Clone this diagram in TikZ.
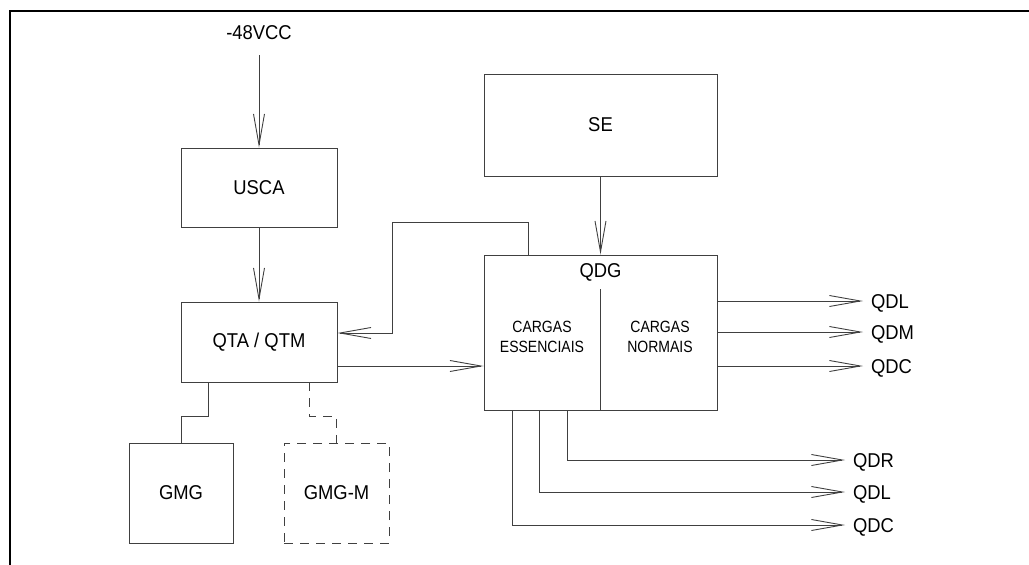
\documentclass[tikz,border=0pt]{standalone}
\usepackage{fontspec}
\setmainfont[FakeStretch=0.92]{Liberation Sans}
\newfontfamily\narrowfont[FakeStretch=0.86]{Liberation Sans}
\usepackage{tikz}
\usetikzlibrary{arrows.meta, positioning}

\tikzset{
  bloco/.style={draw=black!75, line width=0.9pt, inner sep=0pt},
  rotulo/.style={inner sep=0pt, font=\fontsize{20}{24}\selectfont},
  saida/.style={rotulo, anchor=west, outer xsep=8pt, text height=14.3pt, text depth=0pt},
  linha/.style={draw=black!75, line width=0.9pt}
}

\begin{document}
\begin{tikzpicture}[x=1pt, y=-1pt, >={Straight Barb[length=31pt, width=11pt]},
    font=\fontsize{20}{24}\selectfont]
    \useasboundingbox (0,0) rectangle (1029,565);
    % 1. Moldura
    \draw[line width=2pt] (10,565) -- (10,11) -- (1029,11);

    % 2. Blocos
    \node[rotulo, outer ysep=15pt] (vcc) at (259,33) {-48VCC};
    \node[bloco, minimum width=156, minimum height=79] (usca) at (259,187.5) {USCA};
    \node[bloco, minimum width=156, minimum height=80] (qta) at (259,342) {QTA / QTM};
    \node[bloco, minimum width=233, minimum height=102] (se) at (600.5,125) {SE};
    \node[bloco, minimum width=233, minimum height=155] (qdg) at (600.5,332.5) {};
    \node[bloco, minimum width=104, minimum height=100] (gmg) at (181,493) {GMG};
    \node[bloco, dash pattern=on 9pt off 7pt, minimum width=105, minimum height=100]
        (gmgm) at (336.5,493) {GMG-M};

    % 3. Textos dentro do QDG
    \node[rotulo] (qdgtxt) at (600.5,272) {QDG};
    \node[align=center, font=\narrowfont\fontsize{16.3}{20}\selectfont] (ess) at (542,337)
        {CARGAS\\ESSENCIAIS};
    \node[align=center, font=\narrowfont\fontsize{16.3}{20}\selectfont] (nor) at (660,337)
        {CARGAS\\NORMAIS};
    \draw[linha] (qdg.south) -- ++(0,-121);

    % 4. Saidas
    \node[saida] (qdla) at (863,301) {QDL};
    \node[saida] (qdm)  at (863,332) {QDM};
    \node[saida] (qdca) at (863,366) {QDC};
    \node[saida] (qdr)  at (845,460) {QDR};
    \node[saida] (qdlb) at (845,492) {QDL};
    \node[saida] (qdcb) at (845,525) {QDC};

    % 5. Ligacoes
    \draw[linha, ->] (vcc) -- (usca);
    \draw[linha, ->] (usca) -- (qta);
    \draw[linha, ->] (se) -- (qdg);
    \draw[linha, ->] ([xshift=-72.5pt]qdg.north) |- (392,222) |- ([yshift=9pt]qta.east);
    \draw[linha, ->] ([yshift=-24pt]qta.east) -- ([yshift=-24pt]qta.east -| qdg.west);
    \draw[linha] ([xshift=-51pt]qta.south) -- ++(0,34) -| (gmg.north);
    \draw[linha, dash pattern=on 9pt off 7pt] ([xshift=50pt]qta.south) -- ++(0,34) -| (gmgm.north);
    \draw[linha, ->] (qdg.east |- qdla) -- (qdla);
    \draw[linha, ->] (qdg.east |- qdm) -- (qdm);
    \draw[linha, ->] (qdg.east |- qdca) -- (qdca);
    \draw[linha, ->] ([xshift=-33.5pt]qdg.south) |- (qdr);
    \draw[linha, ->] ([xshift=-61.5pt]qdg.south) |- (qdlb);
    \draw[linha, ->] ([xshift=-88.5pt]qdg.south) |- (qdcb);
\end{tikzpicture}
\end{document}
